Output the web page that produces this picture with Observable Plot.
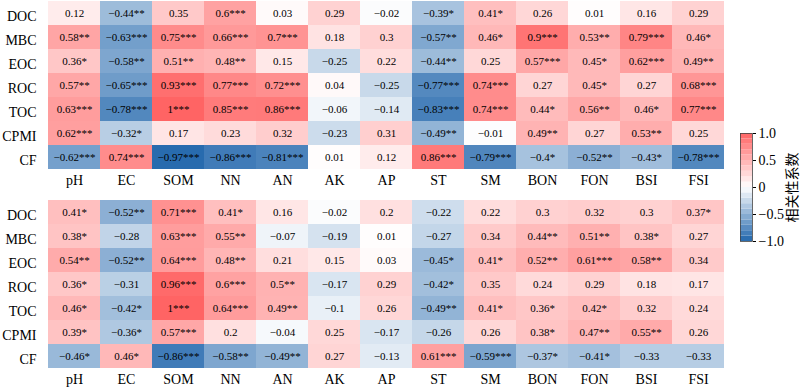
<!DOCTYPE html>
<html>
<head>
<meta charset="utf-8">
<script src="https://cdn.jsdelivr.net/npm/d3@7"></script>
<script src="https://cdn.jsdelivr.net/npm/@observablehq/plot@0.6"></script>
<style>
  html, body { margin: 0; padding: 0; background: #fff; }
  #wrap { position: relative; width: 800px; height: 388px; overflow: hidden; }
  #wrap svg { position: absolute; background: transparent; overflow: visible; }
</style>
</head>
<body>
<div id="wrap"></div>
<script>
const rows = ["DOC", "MBC", "EOC", "ROC", "TOC", "CPMI", "CF"];
const cols = ["pH", "EC", "SOM", "NN", "AN", "AK", "AP", "ST", "SM", "BON", "FON", "BSI", "FSI"];

// Upper panel
const topValues = [
  [0.12, -0.44, 0.35, 0.6, 0.03, 0.29, -0.02, -0.39, 0.41, 0.26, 0.01, 0.16, 0.29],
  [0.58, -0.63, 0.75, 0.66, 0.7, 0.18, 0.3, -0.57, 0.46, 0.9, 0.53, 0.79, 0.46],
  [0.36, -0.58, 0.51, 0.48, 0.15, -0.25, 0.22, -0.44, 0.25, 0.57, 0.45, 0.62, 0.49],
  [0.57, -0.65, 0.93, 0.77, 0.72, 0.04, -0.25, -0.77, 0.74, 0.27, 0.45, 0.27, 0.68],
  [0.63, -0.78, 1, 0.85, 0.86, -0.06, -0.14, -0.83, 0.74, 0.44, 0.56, 0.46, 0.77],
  [0.62, -0.32, 0.17, 0.23, 0.32, -0.23, 0.31, -0.49, -0.01, 0.49, 0.27, 0.53, 0.25],
  [-0.62, 0.74, -0.97, -0.86, -0.81, 0.01, 0.12, 0.86, -0.79, -0.4, -0.52, -0.43, -0.78]
];
const topStars = [
  ["", "**", "", "***", "", "", "", "*", "*", "", "", "", ""],
  ["**", "***", "***", "***", "***", "", "", "**", "*", "***", "**", "***", "*"],
  ["*", "**", "**", "**", "", "", "", "**", "", "***", "*", "***", "**"],
  ["**", "***", "***", "***", "***", "", "", "***", "***", "", "*", "", "***"],
  ["***", "***", "***", "***", "***", "", "", "***", "***", "*", "**", "*", "***"],
  ["***", "*", "", "", "", "", "", "**", "", "**", "", "**", ""],
  ["***", "***", "***", "***", "***", "", "", "***", "***", "*", "**", "*", "***"]
];

// Lower panel
const bottomValues = [
  [0.41, -0.52, 0.71, 0.41, 0.16, -0.02, 0.2, -0.22, 0.22, 0.3, 0.32, 0.3, 0.37],
  [0.38, -0.28, 0.63, 0.55, -0.07, -0.19, 0.01, -0.27, 0.34, 0.44, 0.51, 0.38, 0.27],
  [0.54, -0.52, 0.64, 0.48, 0.21, 0.15, 0.03, -0.45, 0.41, 0.52, 0.61, 0.58, 0.34],
  [0.36, -0.31, 0.96, 0.6, 0.5, -0.17, 0.29, -0.42, 0.35, 0.24, 0.29, 0.18, 0.17],
  [0.46, -0.42, 1, 0.64, 0.49, -0.1, 0.26, -0.49, 0.41, 0.36, 0.42, 0.32, 0.24],
  [0.39, -0.36, 0.57, 0.2, -0.04, 0.25, -0.17, -0.26, 0.26, 0.38, 0.47, 0.55, 0.26],
  [-0.46, 0.46, -0.86, -0.58, -0.49, 0.27, -0.13, 0.61, -0.59, -0.37, -0.41, -0.33, -0.33]
];
const bottomStars = [
  ["*", "**", "***", "*", "", "", "", "", "", "", "", "", "*"],
  ["*", "", "***", "**", "", "", "", "", "", "**", "**", "*", ""],
  ["**", "**", "***", "**", "", "", "", "*", "*", "**", "***", "**", ""],
  ["*", "", "***", "***", "**", "", "", "*", "", "", "", "", ""],
  ["*", "*", "***", "***", "**", "", "", "**", "*", "*", "*", "", ""],
  ["*", "*", "***", "", "", "", "", "", "", "*", "**", "**", ""],
  ["*", "*", "***", "**", "**", "", "", "***", "***", "*", "*", "", ""]
];

const cbTicks = [-1, -0.5, 0, 0.5, 1];
const cbTickLabels = ["−1.0", "−0.5", "0", "0.5", "1.0"];
const cbTitle = "相关性系数";

const colorScale = {type: "linear", domain: [-1, 0, 1], range: ["#2166ac", "#ffffff", "#ff6464"], interpolate: "rgb"};
const serif = "'Liberation Serif', 'Times New Roman', serif";
const fmt = v => String(v).replace("-", "\u2212");

function heat(values, stars, top, marginTop, marginBottom) {
  const data = rows.flatMap((r, i) => cols.map((c, j) => ({row: r, col: c, v: values[i][j], s: stars[i][j]})));
  const svg = Plot.plot({
    width: 800, height: 194,
    marginLeft: 45, marginRight: 73, marginTop, marginBottom,
    style: {fontFamily: serif, fontSize: "14px", color: "#000", background: "transparent"},
    x: {domain: cols, padding: 0, label: null},
    y: {domain: rows, padding: 0, label: null},
    color: colorScale,
    marks: [
      Plot.cell(data, {x: "col", y: "row", fill: "v"}),
      Plot.text(data, {x: "col", y: "row", text: d => fmt(d.v) + d.s, fontSize: 11, fill: "#000"}),
      Plot.axisX({tickSize: 0, tickPadding: 6, fontSize: 14}),
      Plot.axisY({tickSize: 0, tickPadding: 9, fontSize: 14, dy: 3})
    ]
  });
  svg.style.left = "0px";
  svg.style.top = top + "px";
  return svg;
}

const wrap = document.getElementById("wrap");
wrap.appendChild(heat(topValues, topStars, 0, 0, 25));
wrap.appendChild(heat(bottomValues, bottomStars, 194, 5, 20));

// colorbar
const bins = d3.range(20).map(i => -1 + i * 0.1);
const cb = Plot.plot({
  width: 60, height: 388,
  marginLeft: 0, marginRight: 48, marginTop: 133, marginBottom: 147,
  style: {fontFamily: serif, fontSize: "14px", color: "#000", background: "transparent"},
  x: {domain: [0, 1], axis: null},
  y: {domain: [-1, 1], label: null},
  color: colorScale,
  marks: [
    Plot.rect(bins, {x1: 0, x2: 1, y1: d => d, y2: d => d + 0.1, fill: d => d + 0.05}),
    Plot.frame({stroke: "#444", strokeWidth: 0.8}),
    Plot.axisY({anchor: "right", ticks: cbTicks, tickFormat: (d) => cbTickLabels[cbTicks.indexOf(d)], tickSize: 3, tickPadding: 3, fontSize: 14}),
    Plot.text([cbTitle], {frameAnchor: "right", textAnchor: "middle", rotate: -90, dx: 40, fontSize: 14, fontFamily: "'Noto Sans CJK SC', sans-serif", fill: "#000"})
  ]
});
cb.style.left = "740px";
cb.style.top = "0px";
wrap.appendChild(cb);
</script>
</body>
</html>
